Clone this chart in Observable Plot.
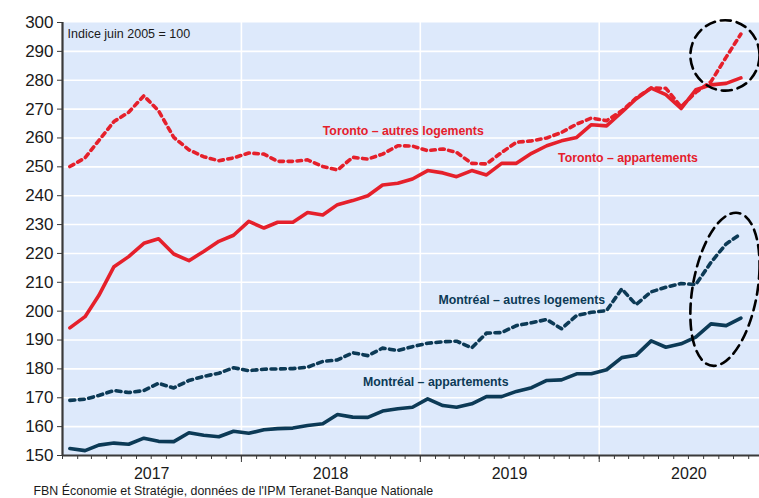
<!DOCTYPE html>
<html>
<head>
<meta charset="utf-8">
<script src="https://cdn.jsdelivr.net/npm/d3@7"></script>
<script src="https://cdn.jsdelivr.net/npm/@observablehq/plot@0.6"></script>
<style>
  html, body { margin: 0; padding: 0; background: #fff; }
  #chart { width: 759px; height: 498px; }
</style>
</head>
<body>
<div id="chart"></div>
<script>
// ---- Data (Indice juin 2005 = 100), monthly Jan 2017 – Oct 2020 ----
const startMonth = new Date(Date.UTC(2017, 0, 1));
const months = d3.utcMonth.range(startMonth, new Date(Date.UTC(2020, 10, 1))); // 46 months

const torontoAppartements = [194.2,198.1,205.4,215.4,218.9,223.5,225.1,219.8,217.5,220.7,
  224.2,226.3,231.1,228.8,230.8,230.8,234.2,233.3,236.9,238.3,
  240.0,243.7,244.3,245.8,248.7,247.9,246.6,248.7,247.2,251.2,
  251.2,254.7,257.3,259.0,260.2,264.6,264.2,268.9,273.5,277.3,
  275.0,270.2,276.7,278.4,278.9,280.8];

const torontoAutres = [250.1,253.1,259.1,265.7,268.9,274.6,269.4,260.2,255.9,253.5,
  252.1,253.1,254.8,254.4,251.9,251.9,252.4,250.1,248.9,253.3,
  252.7,254.4,257.3,257.2,255.6,256.2,255.0,251.2,251.0,255.0,
  258.5,259.0,260.0,261.9,264.8,266.9,266.0,269.4,273.8,277.3,
  277.2,270.8,275.8,279.5,288.0,296.0];

const montrealAppartements = [152.4,151.7,153.6,154.3,153.9,156.0,154.9,154.8,157.9,157.0,
  156.5,158.4,157.7,158.9,159.3,159.5,160.4,161.0,164.2,163.3,
  163.2,165.4,166.2,166.7,169.6,167.3,166.7,167.9,170.4,170.4,
  172.2,173.5,176.0,176.2,178.3,178.3,179.7,183.9,184.7,189.7,
  187.5,188.7,191.0,195.6,195.0,197.6];

const montrealAutres = [169.1,169.5,170.8,172.5,171.8,172.5,175.0,173.4,176.0,177.4,
  178.5,180.4,179.4,179.9,180.0,180.1,180.6,182.6,183.1,185.6,
  184.6,187.2,186.4,187.7,188.9,189.4,189.6,187.3,192.4,192.6,
  195.0,196.0,197.1,193.9,198.5,199.6,200.2,207.7,202.3,206.7,
  208.3,209.6,209.2,216.9,223.3,226.8];

const yTicks = [150,160,170,180,190,200,210,220,230,240,250,260,270,280,290,300];
const yearLabels = [2017, 2018, 2019, 2020];

// Series labels (annotations)
const seriesLabels = [
  {text: "Toronto – autres logements", date: "2018-06-16", value: 262.5, color: "#e5202b"},
  {text: "Toronto – appartements", date: "2019-10-09", value: 253.2, color: "#e5202b"},
  {text: "Montréal – autres logements", date: "2019-02-07", value: 203.7, color: "#0c3a56"},
  {text: "Montréal – appartements", date: "2018-09-06", value: 175.3, color: "#0c3a56"}
];

// Highlight ellipses (top, right, bottom, left anchor points)
const circleToronto = [
  {date: "2020-09-14", value: 300.8}, {date: "2020-11-23", value: 288.6},
  {date: "2020-09-14", value: 276.4}, {date: "2020-07-05", value: 288.6}
];
const circleMontreal = [
  {date: "2020-09-17", value: 233.1}, {date: "2020-11-23", value: 214.7},
  {date: "2020-09-10", value: 182.1}, {date: "2020-07-05", value: 200.2}
];

const caption = "FBN Économie et Stratégie, données de l'IPM Teranet-Banque Nationale";
const indexNote = "Indice juin 2005 = 100";

// ---- Build table ----
const RED = "#e5202b", NAVY = "#0c3a56";
function rowsOf(arr, series) {
  return arr.map((v, i) => ({month: months[i], value: v, series}));
}
const rows = [
  ...rowsOf(torontoAppartements, "ta"),
  ...rowsOf(torontoAutres, "tl"),
  ...rowsOf(montrealAppartements, "ma"),
  ...rowsOf(montrealAutres, "ml")
];
const midMonth = d => d3.utcDay.offset(d.month, 15);

const xDomain = [startMonth, new Date(Date.UTC(2020, 10, 23))];
const monthTicks = d3.utcMonth.range(startMonth, xDomain[1]);
const yearStarts = [2018, 2019, 2020].map(y => new Date(Date.UTC(y, 0, 1)));
const yearMids = yearLabels.map(y => new Date(Date.UTC(y, 6, 2)));
const toDate = d => new Date(d.date + "T00:00:00Z");

const FONT = "'Liberation Sans', Arial, Helvetica, sans-serif";
const AXIS = "#3a3a3a";

const chart = Plot.plot({
  width: 759,
  height: 498,
  marginLeft: 62,
  marginRight: 0,
  marginTop: 22,
  marginBottom: 43,
  style: {fontFamily: FONT, background: "#fff", color: "#1a1a1a"},
  x: {type: "utc", domain: xDomain},
  y: {domain: [150, 300]},
  marks: [
    Plot.frame({fill: "#dde9fb", stroke: null}),
    Plot.ruleY(yTicks.filter(t => t > 150 && t < 300), {stroke: "#fff", strokeWidth: 1.6}),
    Plot.ruleX(yearStarts, {stroke: "#fff", strokeWidth: 1.6}),

    Plot.line(rows.filter(d => d.series === "tl"), {x: midMonth, y: "value", stroke: RED, strokeWidth: 3.6, strokeDasharray: "4.5,4.5"}),
    Plot.line(rows.filter(d => d.series === "ta"), {x: midMonth, y: "value", stroke: RED, strokeWidth: 3.6, strokeLinejoin: "round"}),
    Plot.line(rows.filter(d => d.series === "ml"), {x: midMonth, y: "value", stroke: NAVY, strokeWidth: 3.6, strokeDasharray: "5,4.5"}),
    Plot.line(rows.filter(d => d.series === "ma"), {x: midMonth, y: "value", stroke: NAVY, strokeWidth: 3.6, strokeLinejoin: "round"}),

    Plot.line(circleToronto, {x: toDate, y: "value", curve: "cardinal-closed", tension: -0.66, stroke: "#000", strokeWidth: 2.6, strokeDasharray: "10,6"}),
    Plot.line(circleMontreal, {x: toDate, y: "value", curve: "cardinal-closed", tension: -0.66, stroke: "#000", strokeWidth: 2.6, strokeDasharray: "10,6"}),

    Plot.text(seriesLabels, {x: toDate, y: "value", text: "text", fill: "color", textAnchor: "start", lineAnchor: "middle", fontWeight: "bold", fontSize: 12.3}),
    Plot.text([indexNote], {frameAnchor: "top-left", dx: 5, dy: 11, lineAnchor: "middle", textAnchor: "start", fontSize: 12.5, fill: "#1a1a1a"}),
    Plot.text([caption], {frameAnchor: "bottom-left", dx: -29, dy: 31, lineAnchor: "top", textAnchor: "start", fontSize: 12.4, fill: "#1a1a1a"}),

    // axes
    Plot.axisY({ticks: yTicks, tickSize: 5, tickPadding: 4, fontSize: 17, label: null, stroke: AXIS, fill: "#1a1a1a"}),
    Plot.axisX({ticks: monthTicks, tickSize: 4, tickFormat: () => "", label: null, stroke: AXIS}),
    Plot.axisX({ticks: yearStarts, tickSize: 7, tickFormat: () => "", label: null, stroke: AXIS}),
    Plot.axisX({ticks: yearMids, tickSize: 0, tickPadding: 12, tickFormat: d => String(d.getUTCFullYear()), fontSize: 16, label: null, fill: "#1a1a1a"}),
    Plot.ruleX([startMonth], {stroke: AXIS, strokeWidth: 2.2}),
    Plot.ruleY([150], {stroke: AXIS, strokeWidth: 2.2})
  ]
});
document.getElementById("chart").appendChild(chart);
</script>
</body>
</html>
